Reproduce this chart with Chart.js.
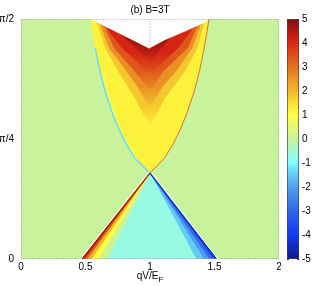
<!DOCTYPE html>
<html>
<head>
<meta charset="utf-8">
<script src="https://cdn.jsdelivr.net/npm/chart.js@4.4.0/dist/chart.umd.min.js"></script>
<style>
  body { margin: 0; background: #fff; }
  #wrap { position: relative; width: 327px; height: 286px; }
  #main { position: absolute; left: 0; top: 0; }
  #cbar { position: absolute; left: 281px; top: 0; }
</style>
</head>
<body>
<div id="wrap">
  <canvas id="main" width="281" height="286"></canvas>
  <canvas id="cbar" width="46" height="286"></canvas>
</div>
<script>
// axes (theta is kept in units of pi/2)
const xRange = [0, 2]
const yRange = [0, 1]
const xTicks = [0, 0.5, 1, 1.5, 2]
const yTicks = [0, 0.5, 1]
const yTickLabels = ['0', 'π/4', 'π/2']
const cbarRange = [-5, 5]
const cbarTicks = [-5, -4, -3, -2, -1, 0, 1, 2, 3, 4, 5]
const titleText = '(b) B=3T'
const xLabel = ['qV/E', 'F']

// value outside the two cones
const bgValue = 0

// upper cone, edges [x, theta]
const coneLeft = [[1.0,0.358],[0.884,0.419],[0.820,0.475],[0.755,0.545],[0.704,0.614],[0.652,0.698],[0.613,0.781],[0.575,0.879],[0.536,1.0]]
const coneRight = [[1.0,0.358],[1.11,0.419],[1.175,0.475],[1.24,0.545],[1.29,0.614],[1.343,0.698],[1.383,0.781],[1.42,0.879],[1.458,1.0]]
const coneValue = 1.2
// pale strip inside the left edge
const coneStrip = [[0.884,0.419],[0.820,0.475],[0.755,0.545],[0.704,0.614],[0.652,0.698],[0.613,0.781],[0.64,0.781],[0.68,0.698],[0.73,0.614],[0.78,0.545],[0.845,0.475],[0.905,0.419]]
const stripValue = 0.75
// colour bands going up the cone (first point is the lowest tip)
const band1 = [[1.0,0.55],[0.884,0.67],[0.755,0.78],[0.65,0.88],[0.58,1.0],[1.43,1.0],[1.37,0.88],[1.27,0.78],[1.116,0.67]]
const band2 = [[1.0,0.63],[0.9,0.72],[0.82,0.78],[0.68,0.88],[0.6,1.0],[1.41,1.0],[1.33,0.88],[1.2,0.78],[1.1,0.72]]
const band3 = [[1.0,0.70],[0.884,0.78],[0.72,0.88],[0.62,1.0],[1.39,1.0],[1.295,0.88],[1.1,0.78]]
const band4 = [[1.0,0.77],[0.78,0.88],[0.68,0.95],[0.64,1.0],[1.36,1.0],[1.32,0.95],[1.22,0.88]]
const band5 = [[1.0,0.82],[0.85,0.9],[0.7,0.97],[0.66,1.0],[1.32,1.0],[1.25,0.97],[1.12,0.9]]
const bandValues = [1.8, 2.6, 3.4, 4.1, 4.7]
const coneLeftLine = -1.3
const coneRightLine = 3.0
// no data on top (white)
const notch = [[0.536,1.0],[0.994,0.877],[1.116,0.913],[1.271,0.948],[1.425,0.985],[1.458,1.0]]

// lower triangle
const tri = [[0.472,0],[1.0,0.358],[1.516,0]]
const triMid = [[0.61,0.09],[1.0,0.358],[1.385,0.09]]
const triTop = [[0.76,0.2],[1.0,0.358],[1.23,0.2]]
const triValues = [-0.68, -0.88, -1.05]
const leftWedgeX = [0.67, 0.6, 0.55, 0.515, 0.49]
const leftWedgeV = [0.1, 1.0, 2.0, 3.3, 4.4]
const rightWedgeX = [1.36, 1.42, 1.46, 1.495]
const rightWedgeV = [-1.5, -2.1, -2.9, -3.9]
const triEdgeV = [4.6, -4.5]
const triWhiteL = [[0.462,0],[0.99,0.362]]
const triWhiteR = [[1.526,0],[1.01,0.362]]

// colour map (jet-like, green at zero)
const cmapVals = [-5,-4,-3,-2,-1.2,-1,-0.5,0,0.5,1,1.5,2,2.5,3,3.5,4,4.5,5]
const cmapCols = [[16,24,138],[16,60,245],[48,100,236],[80,160,240],[110,230,250],[128,255,255],[164,248,212],[200,242,156],[228,248,110],[255,255,64],[250,222,52],[242,184,44],[236,150,38],[226,112,32],[224,78,26],[220,40,20],[180,22,16],[122,16,16]]

function rgb(c, a) { return 'rgba(' + c[0] + ',' + c[1] + ',' + c[2] + ',' + (a === undefined ? 1 : a) + ')' }
function cmapRGB(v) {
  if (v <= cmapVals[0]) return cmapCols[0]
  for (let i = 1; i < cmapVals.length; i++) {
    if (v <= cmapVals[i]) {
      const t = (v - cmapVals[i-1]) / (cmapVals[i] - cmapVals[i-1])
      const a = cmapCols[i-1], b = cmapCols[i]
      return [0,1,2].map(k => Math.round(a[k] + (b[k] - a[k]) * t))
    }
  }
  return cmapCols[cmapCols.length-1]
}
const cmap = v => rgb(cmapRGB(v))

const pts = arr => arr.map(p => ({x: p[0], y: p[1]}))
function poly(arr, color) {
  return { data: pts(arr), fill: 'shape', backgroundColor: color, borderColor: 'transparent',
    borderWidth: 0, pointRadius: 0, tension: 0 }
}
// band that fades in above its tip
function fadePoly(arr, v, span) {
  const c = cmapRGB(v)
  const ds = poly(arr, rgb(c))
  ds.backgroundColor = ctx => {
    const ch = ctx.chart
    if (!ch.chartArea) return rgb(c)
    const y = ch.scales.y
    const g = ch.ctx.createLinearGradient(0, y.getPixelForValue(arr[0][1]), 0, y.getPixelForValue(arr[0][1] + span))
    g.addColorStop(0, rgb(c, 0))
    g.addColorStop(1, rgb(c, 1))
    return g
  }
  return ds
}
function line(arr, color, w, dash) {
  return { data: pts(arr), fill: false, borderColor: color, borderWidth: w, borderDash: dash || [],
    pointRadius: 0, tension: 0 }
}

// layers from bottom to top
const layers = []
layers.push(poly([[xRange[0],yRange[0]],[xRange[1],yRange[0]],[xRange[1],yRange[1]],[xRange[0],yRange[1]]], cmap(bgValue)))
layers.push(poly(coneLeft.concat(coneRight.slice().reverse()), cmap(coneValue)))
layers.push(poly(coneStrip, cmap(stripValue)))
;[band1, band2, band3, band4, band5].forEach((b, i) => layers.push(fadePoly(b, bandValues[i], 0.09)))
layers.push(line(coneLeft.slice(0, 8), cmap(coneLeftLine), 1.5))
layers.push(line(coneRight, cmap(coneRightLine), 1))
layers.push(poly(notch, '#ffffff'))
layers.push(line([[xTicks[2], notch[1][1]], [xTicks[2], yRange[1]]], '#9a9a9a', 1, [1, 2]))
layers.push(poly(tri, cmap(triValues[0])))
layers.push(fadePoly(triMid, triValues[1], -0.06))
layers.push(fadePoly(triTop, triValues[2], -0.08))
leftWedgeX.forEach((xb, i) => layers.push(poly([tri[0], tri[1], [xb, 0]], cmap(leftWedgeV[i]))))
rightWedgeX.forEach((xb, i) => layers.push(poly([tri[2], tri[1], [xb, 0]], cmap(rightWedgeV[i]))))
layers.push(line([tri[0], tri[1]], cmap(triEdgeV[0]), 1.2))
layers.push(line([tri[2], tri[1]], cmap(triEdgeV[1]), 1.2))
layers.push(line(triWhiteL, '#ffffff', 1))
layers.push(line(triWhiteR, '#ffffff', 1))

Chart.defaults.font.family = '"Liberation Sans", Arial, sans-serif'
Chart.defaults.font.size = 10
Chart.defaults.color = '#000'

// dotted box round the plot
const framePlugin = {
  id: 'frame',
  afterDatasetsDraw(chart) {
    const a = chart.chartArea, ctx = chart.ctx
    ctx.save()
    ctx.strokeStyle = '#9a9a9a'
    ctx.lineWidth = 1
    ctx.setLineDash([1, 2])
    ctx.strokeRect(a.left + 0.5, a.top + 0.5, a.right - a.left - 1, a.bottom - a.top - 1)
    ctx.restore()
  }
}
// x label with subscript F
const xLabelPlugin = {
  id: 'xlabel',
  afterDraw(chart) {
    const ctx = chart.ctx, a = chart.chartArea
    const big = '10px "Liberation Sans", Arial, sans-serif'
    const small = '8px "Liberation Sans", Arial, sans-serif'
    ctx.save()
    ctx.fillStyle = '#000'
    ctx.textBaseline = 'middle'
    ctx.textAlign = 'left'
    ctx.font = big
    const w1 = ctx.measureText(xLabel[0]).width
    ctx.font = small
    const w2 = ctx.measureText(xLabel[1]).width
    const x0 = (a.left + a.right) / 2 - (w1 + w2) / 2
    ctx.font = big
    ctx.fillText(xLabel[0], x0, a.bottom + 17)
    ctx.font = small
    ctx.fillText(xLabel[1], x0 + w1, a.bottom + 21)
    ctx.restore()
  }
}

new Chart(document.getElementById('main'), {
  type: 'line',
  data: { datasets: layers.reverse() },
  options: {
    responsive: false,
    animation: false,
    events: [],
    layout: { padding: { right: 2 } },
    plugins: {
      legend: { display: false },
      tooltip: { enabled: false },
      title: { display: true, text: titleText, fullSize: false, color: '#000',
        font: { size: 10, weight: 'normal' }, padding: { top: 4, bottom: 3 } }
    },
    scales: {
      x: {
        type: 'linear', min: xRange[0], max: xRange[1],
        afterBuildTicks: s => { s.ticks = xTicks.map(v => ({ value: v })) },
        ticks: { padding: 2, maxRotation: 0, callback: v => String(v) },
        grid: { display: false, drawTicks: false },
        border: { display: false },
        afterFit: s => { s.height = 27; s.paddingLeft = 0; s.paddingRight = 0 }
      },
      y: {
        type: 'linear', min: yRange[0], max: yRange[1],
        afterBuildTicks: s => { s.ticks = yTicks.map(v => ({ value: v })) },
        ticks: { padding: 7, callback: (v, i) => yTickLabels[i] },
        grid: { display: false, drawTicks: false },
        border: { display: false },
        afterFit: s => { s.width = 21; s.paddingTop = 0; s.paddingBottom = 0 }
      }
    }
  },
  plugins: [framePlugin, xLabelPlugin]
})

// colour bar
new Chart(document.getElementById('cbar'), {
  type: 'bar',
  data: {
    labels: [''],
    datasets: [{
      data: [cbarRange],
      backgroundColor: c => {
        const ch = c.chart
        if (!ch.chartArea) return null
        const y = ch.scales.y
        const g = ch.ctx.createLinearGradient(0, y.getPixelForValue(cbarRange[0]), 0, y.getPixelForValue(cbarRange[1]))
        cmapVals.forEach((v, i) => g.addColorStop((v - cbarRange[0]) / (cbarRange[1] - cbarRange[0]), rgb(cmapCols[i])))
        return g
      },
      borderColor: '#444',
      borderWidth: 1,
      borderSkipped: false,
      barPercentage: 1,
      categoryPercentage: 1
    }]
  },
  options: {
    responsive: false,
    animation: false,
    events: [],
    layout: { padding: { left: 6, top: 19, bottom: 27, right: 0 } },
    plugins: { legend: { display: false }, tooltip: { enabled: false } },
    scales: {
      x: { display: false },
      y: {
        position: 'right', min: cbarRange[0], max: cbarRange[1], z: 1,
        afterBuildTicks: s => { s.ticks = cbarTicks.map(v => ({ value: v })) },
        ticks: { padding: 3, callback: v => String(v) },
        grid: { drawTicks: false, color: '#333', lineWidth: 1 },
        border: { display: false, dash: [2, 8] },
        afterFit: s => { s.width = 28; s.paddingTop = 0; s.paddingBottom = 0 }
      }
    }
  }
})
</script>
</body>
</html>
